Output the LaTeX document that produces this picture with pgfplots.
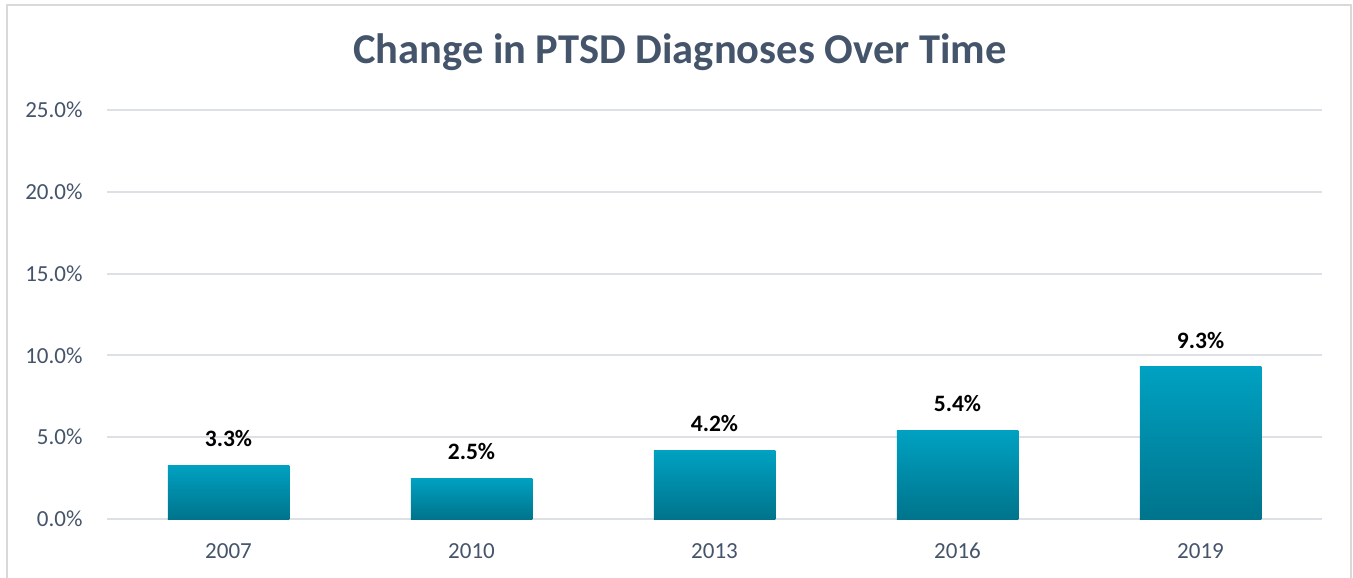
\documentclass[border=0pt]{standalone}
\usepackage{fontspec}
\setmainfont{Carlito}
\usepackage{pgfplots}
\pgfplotsset{compat=1.18}
\definecolor{slate}{HTML}{44546A}
\definecolor{gridgray}{HTML}{DDE1E6}
\definecolor{framegray}{HTML}{D9D9D9}
\definecolor{bartop}{HTML}{00A1C2}
\definecolor{barbot}{HTML}{00748C}

\begin{document}
\begin{tikzpicture}
\useasboundingbox (0,0) rectangle (541.2pt,230.8pt);
\draw[framegray, line width=0.8pt] (2.8pt,-5pt) rectangle (540.4pt,228.8pt);
\node[font=\fontsize{17}{20}\selectfont\bfseries, text=slate] at (272pt,210pt) {Change in PTSD Diagnoses Over Time};
\begin{axis}[at={(42.8pt,23.2pt)}, anchor=south west, scale only axis,
  width=486pt, height=163.6pt,
  xmin=-0.5, xmax=4.5, ymin=0, ymax=25,
  xtick={0,1,2,3,4}, xticklabels={2007,2010,2013,2016,2019},
  ytick={0,5,10,15,20,25},
  yticklabel={\pgfmathprintnumber[fixed,fixed zerofill,precision=1]{\tick}\%},
  axis line style={draw=none}, major tick length=0pt,
  ymajorgrids, major grid style={gridgray, line width=0.8pt},
  tick label style={font=\fontsize{9.2}{11}\selectfont, text=slate},
  /pgf/number format/assume math mode=true,
  yticklabel style={anchor=east, inner sep=0pt, xshift=-9.6pt},
  xticklabel style={anchor=base, inner sep=0pt, yshift=-15.6pt},
  ybar, bar width=0.5, bar shift=0pt, clip=false,
  nodes near coords={\pgfmathprintnumber[fixed,fixed zerofill,precision=1]{\pgfplotspointmeta}\%},
  every node near coord/.append style={font=\fontsize{9.4}{11}\selectfont\bfseries, text=black, anchor=base, inner sep=0pt, yshift=7.5pt}]
% each bar is its own plot so that each gets its own shading
\addplot[draw=none, top color=bartop, bottom color=barbot] coordinates {(0,3.3)};
\addplot[draw=none, top color=bartop, bottom color=barbot] coordinates {(1,2.5)};
\addplot[draw=none, top color=bartop, bottom color=barbot] coordinates {(2,4.2)};
\addplot[draw=none, top color=bartop, bottom color=barbot] coordinates {(3,5.4)};
\addplot[draw=none, top color=bartop, bottom color=barbot] coordinates {(4,9.3)};
\end{axis}
\end{tikzpicture}
\end{document}
